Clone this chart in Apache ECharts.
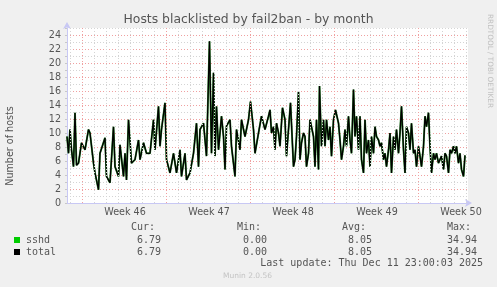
<!DOCTYPE html>
<html><head><meta charset="utf-8">
<script src="https://cdn.jsdelivr.net/npm/echarts@6/dist/echarts.min.js"></script>
<style>html,body{margin:0;padding:0;background:#f0f0f0}#c{width:497px;height:287px}</style>
</head><body><div id="c"></div>
<script>
// ---- data ----
const chartTitle = 'Hosts blacklisted by fail2ban - by month';
const yAxisName = 'Number of hosts';
const sideText = 'RRDTOOL / TOBI OETIKER';
const weekLabels = ['Week 46', 'Week 47', 'Week 48', 'Week 49', 'Week 50'];
// label positions, hours since Mon 10 Nov 2025 00:00
const weekLabelHours = [86, 254, 422, 590, 758];
// week starts (Mondays), hours since Mon 10 Nov 2025 00:00
const weekStartHours = [0, 168, 336, 504, 672];
const yTickLabels = [0, 2, 4, 6, 8, 10, 12, 14, 16, 18, 20, 22, 24];

// sample times (hours since Mon 10 Nov 2025 00:00)
const hours = [-30,-27,-24,-21,-17,-14,-11,-7,-1,6,13,16,23,26,33,36,46,49,56,63,66,73,76,83,86,89,93,99,106,113,116,123,129,136,143,146,153,156,159,166,169,176,183,189,196,199,206,209,216,223,229,233,236,243,249,255,259,263,266,269,273,279,283,286,289,296,299,306,309,316,319,326,333,337,343,346,353,359,366,373,
376,379,383,386,389,393,396,401,406,409,413,417,423,426,429,433,436,439,443,446,449,453,456,459,463,466,469,473,475,479,483,486,489,493,496,499,503,507,513,516,519,523,526,529,533,536,539,543,546,549,553,556,559,563,566,569,573,576,579,583,586,589,593,596,599,603,606,609,613,616,619,623,626,629,633,636,639,643,646,649,653,656,659,663,666,669,673,676,679,683,686,689,693,696,699,703,706,709,713,716,719,723,726,729,733,736,739,743,746,749,753,756,759,763,766];
// number of hosts (sshd)
const sshd = [9.5,7.1,10.5,7.6,5.2,12.9,5.4,5.7,8.6,7.6,10.5,10.0,5.7,4.3,1.9,7.1,9.3,3.8,2.9,10.9,5.2,3.8,8.3,3.8,7.1,3.3,11.9,5.7,6.2,9.0,6.2,8.6,7.1,7.1,11.9,7.6,13.8,8.1,10.5,14.3,6.2,4.3,7.1,4.3,7.6,3.8,7.1,3.3,4.3,7.1,11.4,5.2,10.5,11.4,6.7,23.1,7.1,18.6,6.7,13.8,7.6,12.4,9.5,4.8,11.0,11.9,8.1,3.8,10.5,7.6,11.9,9.5,11.9,14.5,10.5,7.1,10.0,12.4,10.5,12.4,
13.3,10.0,10.9,7.6,11.4,10.0,8.1,13.6,11.9,6.7,10.5,14.3,5.2,6.2,9.5,15.9,6.2,8.6,10.0,9.5,5.2,7.1,11.9,12.1,9.5,5.2,11.9,4.8,16.7,8.1,11.9,8.1,11.9,9.0,10.9,6.7,11.9,13.3,11.4,9.0,6.2,8.1,10.5,8.1,12.4,9.0,7.1,16.2,9.5,12.4,7.6,12.4,6.2,4.3,11.9,7.1,9.0,5.2,9.5,7.1,10.9,9.5,9.0,8.1,8.6,6.2,7.1,5.2,7.6,10.0,4.3,9.5,7.6,10.5,7.1,10.0,13.8,7.6,4.3,10.9,10.0,7.6,11.4,7.1,7.6,5.2,8.1,6.7,5.2,8.1,12.4,10.9,12.9,8.1,4.3,7.1,6.2,7.1,5.7,6.2,6.7,4.8,7.1,6.7,4.3,7.6,7.1,8.1,7.1,8.1,5.7,7.1,4.8,3.8,6.8];
// total equals sshd (only one jail); legend values are identical
const total = sshd;

const legendNames = ['sshd', 'total'];
const legendColors = ['#00cc00', '#000000'];
const legendHeaders = ['Cur:', 'Min:', 'Avg:', 'Max:'];
const curVals = ['6.79', '6.79'];
const minVals = ['0.00', '0.00'];
const avgVals = ['8.05', '8.05'];
const maxVals = ['34.94', '34.94'];
const lastUpdate = 'Last update: Thu Dec 11 23:00:03 2025';
const footer = 'Munin 2.0.56';

// ---- chart ----
const dayLines = [];
for (let h = -24; h <= 768; h += 24) if (weekStartHours.indexOf(h) < 0) dayLines.push(h);
const GREY = '#d4d4d4', RED = '#f0a0a0', AXIS = '#c8c8f4', TXT = '#555555';
const pairs = a => hours.map((h, i) => [h, a[i]]);

const mono = 'DejaVu Sans Mono', sans = 'DejaVu Sans';
const graphics = [];
function txt(text, x, y, opt) {
  graphics.push(Object.assign({ type: 'text', x: x, y: y, silent: true,
    style: Object.assign({ text: text, fill: TXT, font: '10px "' + mono + '"', textAlign: 'left', textVerticalAlign: 'middle' }, opt.style || {}) },
    opt.el || {}));
}
txt(chartTitle, 248.5, 19.5, { style: { font: '12.4px "' + sans + '"', textAlign: 'center' } });
txt(yAxisName, 10.5, 146, { style: { font: '9.6px "' + sans + '"', textAlign: 'center' }, el: { rotation: Math.PI / 2 } });
txt(sideText, 490, 14, { style: { font: '7.3px "' + sans + '"', fill: '#c0c0c0' }, el: { rotation: -Math.PI / 2 } });
const headX = [131, 237, 342, 447];
const valX = [161, 267, 372, 477];
legendHeaders.forEach((h, i) => txt(h, headX[i], 227.5, {}));
const rowY = [240, 252];
legendNames.forEach((n, r) => {
  graphics.push({ type: 'rect', silent: true, shape: { x: 14, y: rowY[r] - 3, width: 6, height: 6 }, style: { fill: legendColors[r] } });
  txt(n, 26, rowY[r], {});
  [curVals, minVals, avgVals, maxVals].forEach((arr, c) => txt(arr[r], valX[c], rowY[r], { style: { textAlign: 'right' } }));
});
txt(lastUpdate, 483, 263.3, { style: { textAlign: 'right' } });
txt(footer, 247.5, 276, { style: { font: '7.5px "' + sans + '"', fill: '#c4c4c4', textAlign: 'center' } });

const gridMark = (vals, color) => ({
  silent: true, symbol: ['none', 'none'], label: { show: false }, emphasis: { disabled: true },
  lineStyle: { color: color, type: [1, 2], width: 1 },
  data: vals.map(v => ({ xAxis: v }))
});

const chart = echarts.init(document.getElementById('c'), null, { renderer: 'canvas' });
chart.setOption({
  animation: false,
  backgroundColor: '#f0f0f0',
  grid: { left: 67, right: 29, top: 28, bottom: 84, show: true, backgroundColor: '#ffffff', borderWidth: 0 },
  xAxis: {
    type: 'value', min: -30, max: 772,
    axisLine: { show: true, onZero: false, lineStyle: { color: AXIS, width: 1 }, symbol: ['none', 'arrow'], symbolSize: [6, 7], symbolOffset: [0, 4] },
    axisTick: { show: false },
    axisLabel: { show: true, customValues: weekLabelHours, color: TXT, fontFamily: sans, fontSize: 9.6, margin: 4,
      formatter: v => weekLabels[weekLabelHours.indexOf(v)] || '' },
    splitLine: { show: false }
  },
  yAxis: {
    type: 'value', min: 0, max: 25, interval: 1,
    axisLine: { show: true, onZero: false, lineStyle: { color: AXIS, width: 1 }, symbol: ['none', 'arrow'], symbolSize: [6, 7], symbolOffset: [0, 6] },
    axisTick: { show: true, length: 2, lineStyle: { color: '#c8c8c8' } },
    axisLabel: { color: TXT, fontFamily: sans, fontSize: 9.6, margin: 6,
      formatter: v => yTickLabels.indexOf(v) >= 0 ? String(v) : '' },
    splitLine: { show: true, lineStyle: { color: [RED, GREY], type: [1, 2], width: 1 } }
  },
  series: [
    { type: 'line', data: [], z: 1, silent: true, markLine: gridMark(dayLines, GREY) },
    { type: 'line', data: [], z: 1, silent: true, markLine: gridMark(weekStartHours, RED) },
    { name: legendNames[0], type: 'line', data: pairs(sshd), showSymbol: false, z: 2,
      lineStyle: { color: '#2f8a2f', width: 1.9 } },
    { name: legendNames[1], type: 'line', data: pairs(total), showSymbol: false, z: 3,
      lineStyle: { color: legendColors[1], width: 1.3 } }
  ],
  graphic: graphics
});
</script>
</body></html>
